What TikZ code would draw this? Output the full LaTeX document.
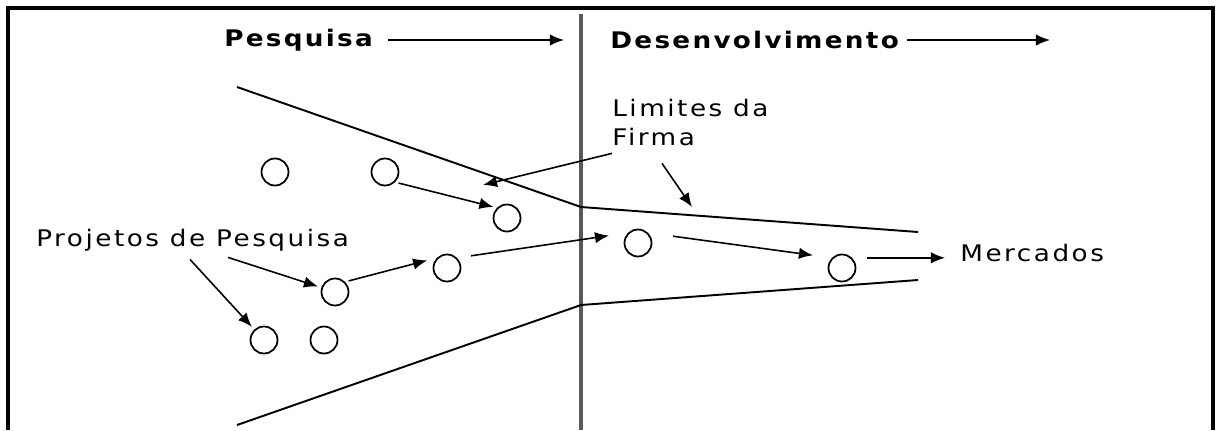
\documentclass[tikz,border=0pt]{standalone}
\usepackage{fontspec}
\setmainfont{DejaVu Sans}
\usetikzlibrary{arrows.meta,positioning}

\begin{document}
\begin{tikzpicture}[
    x=0.02cm, y=-0.02cm,
    proj/.style={circle, draw, line width=1pt, minimum size=0.54cm, inner sep=0},
    lbl/.style={font=\fontsize{13}{16.5}\selectfont\addfontfeatures{FakeStretch=1.15,LetterSpace=11}, inner sep=0, align=left},
    head/.style={font=\fontsize{13}{16}\selectfont\bfseries\addfontfeatures{FakeStretch=1.15,LetterSpace=10}, inner sep=0},
    arrow/.style={-{Latex[length=8pt,width=6.5pt]}, line width=0.9pt},
    limit/.style={line width=1.1pt}
]
    \useasboundingbox (0,0) rectangle (1221,430);

    % Frame
    \draw[line width=1.8pt] (8,430) -- (8,8) -- (1213,8) -- (1213,430);

    % Divider
    \coordinate (divtop) at (581,14);
    \coordinate (divbot) at (581,430);
    \draw[line width=1.8pt, black!65] (divtop) -- (divbot);

    % Headings
    \node[head, anchor=west] (pesq) at (224,40) {Pesquisa};
    \coordinate (pesqend) at (564,40);
    \draw[arrow] ([xshift=0.3cm]pesq.east) -- (pesqend);

    \node[head, anchor=west] (desen) at (610,40) {Desenvolvimento};
    \coordinate (desenend) at (1050,40);
    \draw[arrow] ([xshift=0.15cm]desen.east) -- (desenend);

    % Firm limits
    \coordinate (up1) at (237,87);
    \coordinate (upmid) at (581,207);
    \coordinate (up2) at (918,232);
    \coordinate (lo1) at (237,425);
    \coordinate (lomid) at (581,305);
    \coordinate (lo2) at (918,280);
    \draw[limit] (up1) -- (upmid) -- (up2);
    \draw[limit] (lo1) -- (lomid) -- (lo2);

    % Projects
    \node[proj] (p1) at (275,172) {};
    \node[proj] (p2) at (385,172) {};
    \node[proj] (p3) at (507,218) {};
    \node[proj] (p4) at (335,292) {};
    \node[proj] (p5) at (447,268) {};
    \node[proj] (p6) at (638,243) {};
    \node[proj] (p7) at (842,268) {};
    \node[proj] (p8) at (264,340) {};
    \node[proj] (p9) at (324,340) {};

    % Labels
    \node[lbl, anchor=north west] (lim) at (612,99) {Limites da\\Firma};
    \node[lbl, anchor=west] (projtxt) at (36,240) {Projetos de Pesquisa};
    \node[lbl, anchor=west] (merc) at (960,253) {Mercados};

    \coordinate (limA) at (483,185);
    \coordinate (limB) at (692,207);
    \draw[arrow] ([yshift=-0.14cm]lim.south west) -- (limA);
    \draw[arrow] ([xshift=1cm, yshift=-0.34cm]lim.south west) -- (limB);

    \draw[arrow, shorten >=2pt] ([xshift=3.08cm, yshift=-0.16cm]projtxt.south west) -- (p8);
    \draw[arrow, shorten >=2pt] ([xshift=3.84cm, yshift=-0.12cm]projtxt.south west) -- (p4);

    % Flow
    \draw[arrow, shorten <=2pt, shorten >=2pt] (p2.south east) -- (p3.north west);
    \draw[arrow, shorten <=2pt, shorten >=0.2cm] (p4.north east) -- (p5.north west);
    \draw[arrow, shorten <=0.28cm, shorten >=0.38cm] (p5.north east) -- (p6.north west);
    \draw[arrow, shorten <=0.5cm, shorten >=0.38cm] (p6.north east) -- (p7.north west);
    \draw[arrow, shorten <=0.3cm, shorten >=0.3cm] (p7.north east) -- (p7.north east -| merc.west);

\end{tikzpicture}
\end{document}
